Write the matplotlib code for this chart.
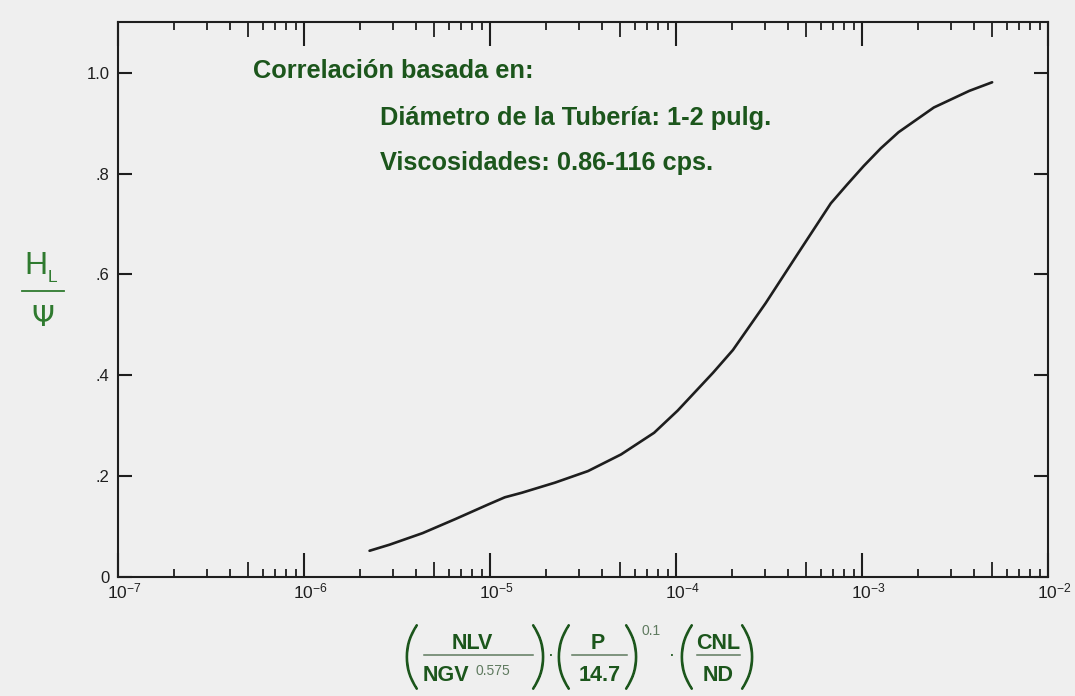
import matplotlib
matplotlib.use("Agg")
import matplotlib.pyplot as plt
import matplotlib.patheffects as pe
from matplotlib.ticker import FixedLocator, NullFormatter, LogLocator
from matplotlib.lines import Line2D
from matplotlib.transforms import ScaledTranslation

# ---- data ----
x_vals = [2.25e-6, 2.88e-6, 4.34e-6, 6.52e-6, 9.80e-6, 1.20e-5, 1.48e-5,
          2.23e-5, 3.36e-5, 5.06e-5, 7.62e-5, 1.02e-4, 1.58e-4, 2.02e-4,
          3.03e-4, 4.53e-4, 6.79e-4, 8.30e-4, 1.02e-3, 1.26e-3, 1.57e-3,
          2.43e-3, 3.77e-3, 5.00e-3]
y_vals = [0.052, 0.064, 0.087, 0.115, 0.144, 0.158, 0.167, 0.187, 0.210,
          0.243, 0.286, 0.330, 0.405, 0.450, 0.543, 0.642, 0.741, 0.778,
          0.815, 0.850, 0.882, 0.931, 0.964, 0.981]
y_ticks = [0, 0.2, 0.4, 0.6, 0.8, 1.0]
y_tick_labels = ["0", ".2", ".4", ".6", ".8", "1.0"]
x_decades = [1e-7, 1e-6, 1e-5, 1e-4, 1e-3, 1e-2]
x_tick_labels = [r"$10^{-7}$", r"$10^{-6}$", r"$10^{-5}$", r"$10^{-4}$",
                 r"$10^{-3}$", r"$10^{-2}$"]
notes = ["Correlación basada en:", "Diámetro de la Tubería: 1-2 pulg.",
         "Viscosidades: 0.86-116 cps."]

BG = "#efefef"
GREEN = "#1c561c"
LGREEN = "#2f7a2f"
GREY = "#5f7a5f"
INK = "#1e1e1e"
W, H = 1075, 696

plt.rcParams["font.family"] = ["Liberation Sans", "DejaVu Sans"]
plt.rcParams["mathtext.fontset"] = "custom"
plt.rcParams["mathtext.rm"] = "Liberation Sans"
plt.rcParams["mathtext.bf"] = "Liberation Sans:bold"
plt.rcParams["mathtext.it"] = "Liberation Sans"

fig = plt.figure(figsize=(W / 100, H / 100), dpi=100, facecolor=BG)
ax = fig.add_axes([0.1098, 0.171, 0.8652, 0.797], facecolor=BG)

ax.plot(x_vals, y_vals, color=INK, lw=1.9, solid_capstyle="round",
        solid_joinstyle="round")

ax.set_xscale("log")
ax.set_xlim(1e-7, 1e-2)
ax.set_ylim(0, 1.1)

for s in ax.spines.values():
    s.set_linewidth(1.5)
    s.set_color(INK)

# x ticks
ax.xaxis.set_major_locator(FixedLocator(x_decades))
ax.set_xticklabels(x_tick_labels, fontsize=12.5, color=INK)
ax.xaxis.set_minor_locator(LogLocator(base=10, subs=[2, 3, 4, 6, 7, 8, 9]))
ax.xaxis.set_minor_formatter(NullFormatter())
ax.tick_params(axis="x", which="major", direction="in", length=17, width=1.5,
               color=INK, top=True, bottom=True, pad=3)
ax.tick_params(axis="x", which="minor", direction="in", length=6, width=1.3,
               color=INK, top=True, bottom=True)
shift = ScaledTranslation(-8 / 72, 0, fig.dpi_scale_trans)
for lab in ax.get_xticklabels():
    lab.set_ha("left")
    lab.set_transform(lab.get_transform() + shift)

# half-decade (x5) ticks, medium length
for side in ("bottom", "top"):
    sec = ax.secondary_xaxis(side)
    sec.set_xscale("log")
    sec.xaxis.set_major_locator(LogLocator(base=10, subs=[5]))
    sec.xaxis.set_major_formatter(NullFormatter())
    sec.xaxis.set_minor_locator(FixedLocator([]))
    sec.spines[side].set_visible(False)
    sec.tick_params(axis="x", which="major", direction="in", length=11,
                    width=1.3, color=INK)

# y ticks
ax.set_yticks(y_ticks)
ax.set_yticklabels(y_tick_labels, fontsize=12, color=INK)
ax.tick_params(axis="y", which="major", direction="in", length=10, width=1.5,
               color=INK, left=True, right=True, pad=6)

# annotations (baseline-anchored)
ax.text(0.145, 0.899, notes[0], transform=ax.transAxes, fontsize=18.3,
        fontweight="bold", color=GREEN, va="baseline", ha="left")
ax.text(0.2817, 0.814, notes[1], transform=ax.transAxes, fontsize=18.3,
        fontweight="bold", color=GREEN, va="baseline", ha="left")
ax.text(0.2817, 0.733, notes[2], transform=ax.transAxes, fontsize=18.3,
        fontweight="bold", color=GREEN, va="baseline", ha="left")


def ftext(px, py, s, **kw):
    return fig.text(px / W, 1 - py / H, s, **kw)


def fline(x0, x1, py, color=GREY, lw=1.1):
    fig.add_artist(Line2D([x0 / W, x1 / W], [1 - py / H, 1 - py / H],
                          color=color, lw=lw, transform=fig.transFigure))


# y label: H_L / psi
ftext(36, 266, "H", fontsize=23, color=LGREEN, ha="center", va="center")
ftext(52, 277, "L", fontsize=12.5, color=LGREEN, ha="center", va="center")
fline(22, 64, 291, color=LGREEN, lw=1.3)
ftext(43, 318, "\u03a8", fontsize=21, color=LGREEN, ha="center",
      va="center", family=["DejaVu Sans"])

# x label formula: (NLV / NGV^0.575) . (P / 14.7)^0.1 . (CNL / ND)
PAREN = dict(fontsize=53, color=GREEN, ha="center", va="center",
             family=["Lato", "DejaVu Sans"], fontweight="light",
             path_effects=[pe.withStroke(linewidth=1.3, foreground=GREEN)])
BOLD = dict(fontsize=15.5, fontweight="bold", color=GREEN, ha="center",
            va="baseline")
SMALL = dict(fontsize=10, color=GREY, ha="left", va="baseline")
NUM_Y, DEN_Y, BAR_Y, MID_Y = 649, 681, 655, 660

ftext(411, MID_Y, "(", **PAREN)
ftext(472, NUM_Y, "NLV", **BOLD)
fline(424, 533, BAR_Y)
ftext(446, DEN_Y, "NGV", **BOLD)
ftext(476, 675, "0.575", **SMALL)
ftext(539, MID_Y, ")", **PAREN)
ftext(551, 655, "\u00b7", fontsize=13, color=GREEN, ha="center", va="center")
ftext(563, MID_Y, "(", **PAREN)
ftext(598, NUM_Y, "P", **BOLD)
fline(572, 627, BAR_Y)
ftext(600, DEN_Y, "14.7", **BOLD)
ftext(632, MID_Y, ")", **PAREN)
ftext(641, 635, "0.1", **SMALL)
ftext(672, 655, "\u00b7", fontsize=13, color=GREEN, ha="center", va="center")
ftext(686, MID_Y, "(", **PAREN)
ftext(718, NUM_Y, "CNL", **BOLD)
fline(697, 740, BAR_Y)
ftext(718, DEN_Y, "ND", **BOLD)
ftext(748, MID_Y, ")", **PAREN)

fig.savefig("out.png", dpi=100, facecolor=BG)
